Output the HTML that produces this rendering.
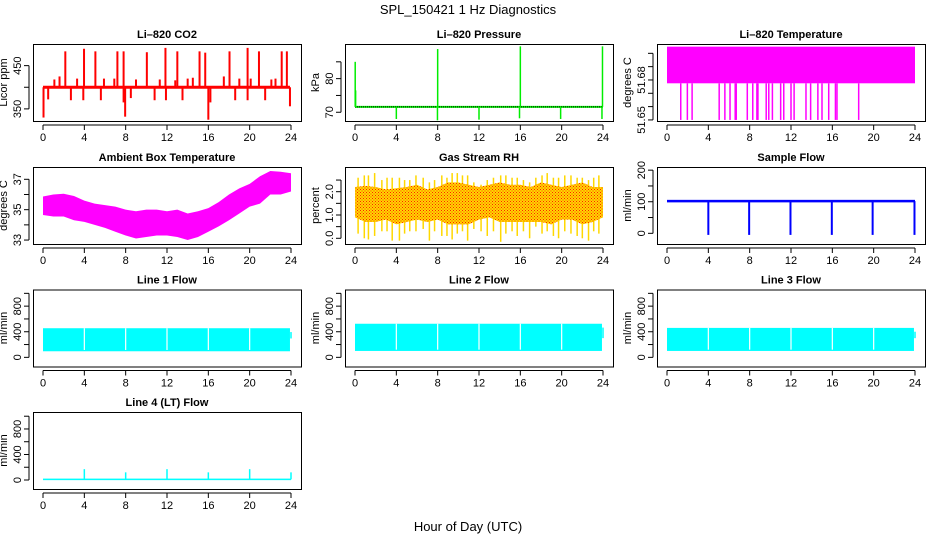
<!DOCTYPE html>
<html><head><meta charset="utf-8"><style>
html,body{margin:0;padding:0;background:#fff;}
svg{display:block;font-family:"Liberation Sans",Arial,sans-serif;}
</style></head><body>
<svg id="c" width="936" height="540" viewBox="0 0 936 540" xmlns="http://www.w3.org/2000/svg">
<defs>
<pattern id="rhpat" width="3" height="3" patternUnits="userSpaceOnUse">
<rect width="3" height="3" fill="#ffd800"/><rect x="0" y="0" width="1" height="1" fill="#ff2000"/><rect x="1.5" y="1.5" width="1" height="1" fill="#ff3000"/>
</pattern>
</defs>
<text x="468" y="14" text-anchor="middle" font-size="13">SPL_150421  1 Hz Diagnostics</text>
<text x="468" y="531" text-anchor="middle" font-size="13">Hour of Day (UTC)</text>
</svg>
<script>
// ---- data ----
const hours=[0,1,2,3,4,5,6,7,8,9,10,11,12,13,14,15,16,17,18,19,20,21,22,23,24];
const xTicks=[0,4,8,12,16,20,24];
const co2Base=400;
const co2UpHours=[2.16,3.97,5.07,7.2,7.8,10.05,11.85,13.0,15.15,15.7,18.05,19.8,20.9,23.1,23.6,1.6,3.3,5.9,9.0,11.3,14.0,14.5,17.5,19.0,20.1,22.1,22.5,1.1,6.9,12.8];
const co2UpVals=[483,489,483,483,483,481,491,483,483,480,483,491,483,483,483,425,420,420,418,418,420,422,425,420,420,418,420,418,420,416];
const co2DownHours=[0.05,0.5,2.7,3.9,5.6,7.8,7.95,8.5,10.8,11.9,13.5,16.0,16.2,18.6,19.8,21.5,23.9];
const co2DownVals=[330,372,370,370,370,365,332,375,370,370,370,325,365,370,370,370,356];
const presBase=71.6;
const presSpikeHours=[0.02,0.06,8.0,16.0,23.95,4.0,7.98,12.0,15.92,19.9,23.9];
const presSpikeVals=[85,76.5,88.8,89.6,89.6,68.0,67.6,67.8,68.2,68.0,68.0];
const tempTop=51.705, tempBottom=51.6775;
const tempDipHours=[1.33,1.97,2.43,5.05,5.6,6.1,6.6,6.7,7.77,8.3,8.7,8.8,9.6,9.85,10.2,11.0,11.3,12.0,12.3,13.45,13.9,14.6,15.0,15.65,16.3,16.45,18.55];
const tempDipVal=51.65;
const ambUpper=[35.87,36.0,36.05,35.9,35.6,35.4,35.3,35.2,35.0,34.9,35.0,35.0,34.9,35.0,34.75,34.9,35.1,35.5,36.0,36.4,36.7,37.2,37.55,37.5,37.4];
const ambLower=[34.65,34.55,34.55,34.3,34.2,34.0,33.8,33.55,33.3,33.1,33.2,33.3,33.3,33.2,33.0,33.2,33.55,33.9,34.3,34.75,35.2,35.4,36.0,36.0,36.2];
const rhUpper=[2.2,2.25,2.2,2.1,2.15,2.2,2.3,2.1,2.2,2.4,2.4,2.3,2.2,2.3,2.4,2.3,2.3,2.2,2.4,2.3,2.2,2.3,2.4,2.2,2.2];
const rhLower=[0.9,0.7,0.7,0.8,0.6,0.7,0.8,0.7,0.8,0.6,0.6,0.6,0.8,0.9,0.7,0.7,0.7,0.7,0.7,0.6,0.8,0.8,0.6,0.7,0.9];
const rhSpikeHours=[0.3,0.9,1.3,1.9,2.6,3.1,3.6,4.3,4.8,5.3,5.9,6.6,7.2,7.7,8.4,8.9,9.4,9.9,10.4,10.9,11.5,12.2,12.8,13.4,14.1,14.6,15.2,15.7,16.3,16.9,17.5,18.1,18.6,19.2,19.7,20.3,20.9,21.5,22.0,22.6,23.1,23.6];
const rhSpikeTop=[2.6,2.7,2.7,2.8,2.5,2.6,2.6,2.6,2.5,2.5,2.7,2.6,2.4,2.5,2.7,2.6,2.8,2.8,2.7,2.7,2.4,2.3,2.5,2.6,2.7,2.7,2.6,2.6,2.5,2.4,2.6,2.7,2.8,2.6,2.6,2.7,2.7,2.6,2.6,2.5,2.6,2.7];
const rhSpikeBottom=[0.2,0.0,-0.05,0.1,0.3,0.3,-0.1,-0.1,0.2,0.3,0.3,0.4,-0.1,0.3,0.1,0.1,-0.05,0.2,0.3,-0.1,0.4,0.3,0.1,0.3,-0.15,0.2,0.3,0.1,0.3,0.0,0.5,0.2,0.3,0.1,0.0,0.3,0.2,0.1,0.0,-0.1,0.3,0.2];
const sfBase=102, sfBandHalf=4;
const sfDipHours=[4.0,7.95,11.95,15.95,19.9,23.95];
const sfDipVal=-5;
const l1Top=455,l1Bottom=95;
const l2Top=525,l2Bottom=100;
const l3Top=460,l3Bottom=100;
const lineGapHours=[4,8,12,16,20];
const l4Base=10, l4Half=12;
const l4SpikeHours=[4,8,12,16,20,24];
const l4SpikeVals=[170,120,170,120,170,120];

// ---- layout ----
const NS="http://www.w3.org/2000/svg";
const svg=document.getElementById('c');
const colLeft=[33,345,657], rowTop=[44,167,289.5,412], W=268, H=77;
function el(tag,attrs,parent){const e=document.createElementNS(NS,tag);for(const k in attrs)e.setAttribute(k,attrs[k]);(parent||svg).appendChild(e);return e;}

function panel(col,row,name,title,ylab,ymin,ymax,ticks,labels){
  const L=colLeft[col],T=rowTop[row];
  const g=el('g',{});
  
  
  const sx=h=>L+10+h*(W-20)/24;
  const sy=v=>T+H-(v-ymin)/(ymax-ymin)*H;
  const t=el('text',{x:L+W/2,y:T-6,'text-anchor':'middle','font-size':11,'font-weight':'bold'},g);
  t.textContent=title;
  
  
  const ax=el('g',{stroke:'#000','stroke-width':1},g);
  
  
  el('line',{x1:sx(0),x2:sx(24),y1:T+H+4,y2:T+H+4},ax);
  xTicks.forEach(h=>{
    el('line',{x1:sx(h),x2:sx(h),y1:T+H+4,y2:T+H+9},ax);
    const tx=el('text',{x:sx(h),y:T+H+20,'text-anchor':'middle','font-size':11,stroke:'none'},ax);
    tx.textContent=h;
    
    
  });
  const ay=el('g',{stroke:'#000','stroke-width':1},g);
  
  
  el('line',{x1:L-4,x2:L-4,y1:sy(ticks[0]),y2:sy(ticks[ticks.length-1])},ay);
  ticks.forEach((v,i)=>{
    el('line',{x1:L-9,x2:L-4,y1:sy(v),y2:sy(v)},ay);
    if(labels[i]){
      const ty=el('text',{x:L-12,y:sy(v),'text-anchor':'middle','font-size':11,stroke:'none',transform:`rotate(-90 ${L-12} ${sy(v)})`},ay);
      ty.textContent=labels[i];
      
      
    }
  });
  const yl=el('text',{x:L-26,y:T+H/2,'text-anchor':'middle','font-size':11,transform:`rotate(-90 ${L-26} ${T+H/2})`},g);
  yl.textContent=ylab;
  
  
  const data=el('g',{},g);
  
  
  el('rect',{x:L+0.5,y:T+0.5,width:W,height:H,fill:'none',stroke:'#000','stroke-width':1},g);
  return {sx,sy,g:data};
}
function vline(p,h,v1,v2,color,w){el('line',{x1:p.sx(h),x2:p.sx(h),y1:p.sy(v1),y2:p.sy(v2),stroke:color,'stroke-width':w||1.5},p.g);}
function band(p,up,lo,fill){
  let d='M'+hours.map((h,i)=>p.sx(h)+','+p.sy(up[i])).join('L');
  d+='L'+hours.slice().reverse().map((h,j)=>p.sx(h)+','+p.sy(lo[hours.length-1-j])).join('L')+'Z';
  el('path',{d,fill},p.g);
}
function rectBand(p,h0,h1,top,bot,fill){el('rect',{x:p.sx(h0),y:p.sy(top),width:p.sx(h1)-p.sx(h0),height:p.sy(bot)-p.sy(top),fill},p.g);}

// CO2
let p=panel(0,0,'co2','Li\u2013820 CO2','Licor ppm',322,500,[350,400,450],['350','','450']);
co2UpHours.forEach((h,i)=>vline(p,h,co2Base,co2UpVals[i],'#f00',2));
co2DownHours.forEach((h,i)=>vline(p,h,co2Base,co2DownVals[i],'#f00',2));
el('line',{x1:p.sx(0),x2:p.sx(23.9),y1:p.sy(co2Base),y2:p.sy(co2Base),stroke:'#f00','stroke-width':3},p.g);

// Pressure
p=panel(1,0,'pressure','Li\u2013820 Pressure','kPa',67.4,90.3,[70,75,80,85],['70','','80','']);
el('line',{x1:p.sx(0),x2:p.sx(24),y1:p.sy(presBase),y2:p.sy(presBase),stroke:'#0e0','stroke-width':2},p.g);
el('line',{x1:p.sx(0),x2:p.sx(24),y1:p.sy(presBase),y2:p.sy(presBase),stroke:'#000','stroke-width':1,'stroke-dasharray':'1,1'},p.g);
presSpikeHours.forEach((h,i)=>vline(p,h,presBase,presSpikeVals[i],'#0e0',1.5));

// Temperature
p=panel(2,0,'li820-temperature','Li\u2013820 Temperature','degrees C',51.6492,51.707,[51.65,51.66,51.67,51.68,51.69,51.70],['51.65','','','51.68','','']);
rectBand(p,0,24,tempTop,tempBottom,'#f0f');
tempDipHours.forEach(h=>vline(p,h,tempBottom,tempDipVal,'#f0f',1.5));

// Ambient
p=panel(0,1,'ambient-temperature','Ambient Box Temperature','degrees C',32.74,37.81,[33,34,35,36,37],['33','','35','','37']);
band(p,ambUpper,ambLower,'#f0f');

// RH
p=panel(1,1,'gas-stream-rh','Gas Stream RH','percent',-0.245,3.06,[0,0.5,1,1.5,2,2.5],['0.0','','1.0','','2.0','']);
rhSpikeHours.forEach((h,i)=>vline(p,h,rhSpikeBottom[i],rhSpikeTop[i],'#ffd800',1.5));
band(p,rhUpper,rhLower,'url(#rhpat)');

// Sample flow
p=panel(2,1,'sample-flow','Sample Flow','ml/min',-33.8,210,[0,50,100,150,200],['0','','100','','200']);
rectBand(p,0,24,sfBase+sfBandHalf,sfBase-sfBandHalf,'#00f');
sfDipHours.forEach(h=>vline(p,h,sfBase,sfDipVal,'#00f',2));

// Line flows
const lfTicks=[0,200,400,600,800,1000], lfLab=['0','','400','','800',''];
[[0,'line-1-flow','Line 1 Flow',l1Top,l1Bottom],[1,'line-2-flow','Line 2 Flow',l2Top,l2Bottom],[2,'line-3-flow','Line 3 Flow',l3Top,l3Bottom]].forEach(c=>{
  const q=panel(c[0],2,c[1],c[2],'ml/min',-143,1060,lfTicks,lfLab);
  rectBand(q,0,23.9,c[3],c[4],'#0ff');
  lineGapHours.forEach(h=>vline(q,h,c[3],c[4]+20,'#fff',1.2));
  vline(q,24,c[4]+200,c[3]-60,'#0ff',1.5);
});
p=panel(0,3,'line-4-flow','Line 4 (LT) Flow','ml/min',-141,1066,lfTicks,lfLab);
rectBand(p,0,24,l4Base+l4Half,l4Base-l4Half,'#0ff');
l4SpikeHours.forEach((h,i)=>vline(p,h,l4Base,l4SpikeVals[i],'#0ff',1.5));
</script>
</body></html>
